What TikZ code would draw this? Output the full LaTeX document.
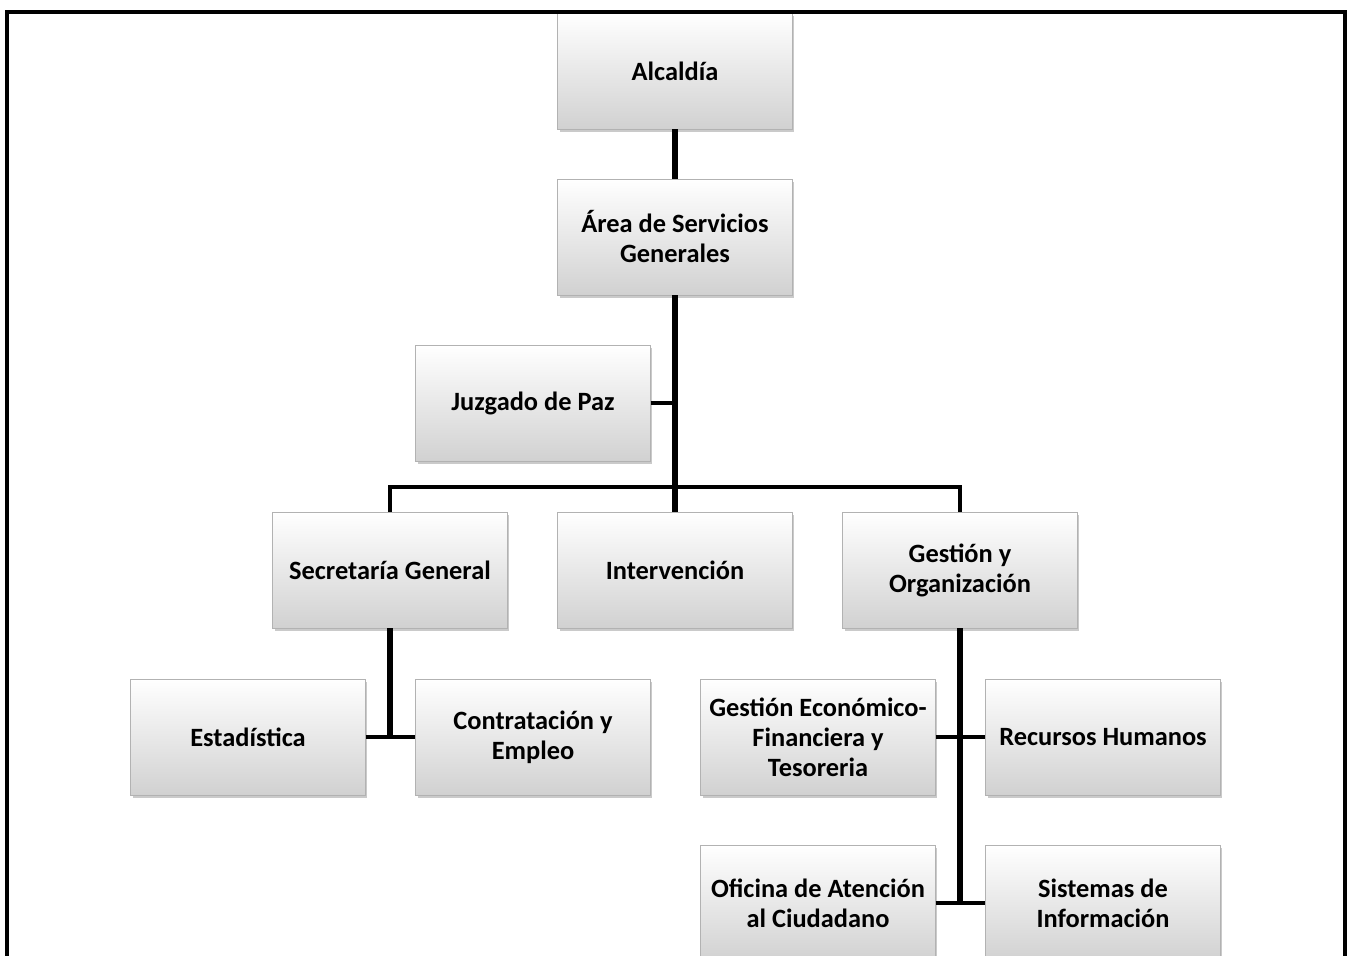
\documentclass[tikz,border=0pt]{standalone}
\usepackage{fontspec}
\setmainfont{Carlito}
\usetikzlibrary{calc,shadows}

\tikzset{
  cargo/.style={draw=gray!60, line width=0.6pt, top color=white, bottom color=gray!36,
    minimum width=176pt, minimum height=87pt, align=center,
    font=\fontsize{19.8}{22.5}\selectfont\bfseries,
    drop shadow={shadow xshift=1.5pt, shadow yshift=-2pt, fill=gray!70, opacity=0.6}},
  tronco/.style={line width=3.8pt, black},
  rama/.style={line width=3pt, black}
}

\begin{document}
\begin{tikzpicture}[x=0.75pt, y=-0.75pt]
		%%%%% START %%%%%
		\useasboundingbox (0, 0) rectangle (1352, 956);
		\clip (0, 0) rectangle (1352, 956);
		
		\node[cargo] (alcaldia) at (675, 71) {Alcaldía};
		\node[cargo] (servicios) at (675, 237) {Área de Servicios\\Generales};
		\node[cargo] (juzgado) at (533, 403) {Juzgado de Paz};
		
		\node[cargo] (secretaria) at (390, 570) {Secretaría General};
		\node[cargo] (intervencion) at (675, 570) {Intervención};
		\node[cargo] (gestion) at (960, 570) {Gestión y\\Organización};
		
		\node[cargo] (estadistica) at (248, 737) {Estadística};
		\node[cargo] (contratacion) at (533, 737) {Contratación y\\Empleo};
		\node[cargo] (economica) at (818, 737) {Gestión Económico-\\Financiera y\\Tesoreria};
		\node[cargo] (rrhh) at (1103, 737) {Recursos Humanos};
		
		\node[cargo] (oficina) at (818, 903) {Oficina de Atención\\al Ciudadano};
		\node[cargo] (sistemas) at (1103, 903) {Sistemas de\\Información};
		
		% lineas
		\coordinate (bus) at (675, 487);
		\draw[tronco] (alcaldia.south) -- (servicios.north);
		\draw[tronco] (servicios.south) -- (intervencion.north);
		\draw[rama] (juzgado.east) -- (servicios.south |- juzgado.east);
		\draw[rama] (secretaria.north) |- (bus) -| (gestion.north);
		
		\draw[tronco] (secretaria.south) -- (secretaria.south |- estadistica.east);
		\draw[rama] (estadistica.east) -- (contratacion.west);
		
		\draw[tronco] (gestion.south) -- (gestion.south |- oficina.east);
		\draw[rama] (economica.east) -- (rrhh.west);
		\draw[rama] (oficina.east) -- (sistemas.west);
		
		% marco
		\draw[line width=2.4pt] (7, 970) -- (7, 12) -- (1345, 12) -- (1345, 970);
		%%%%% END %%%%%
	\end{tikzpicture}
\end{document}
